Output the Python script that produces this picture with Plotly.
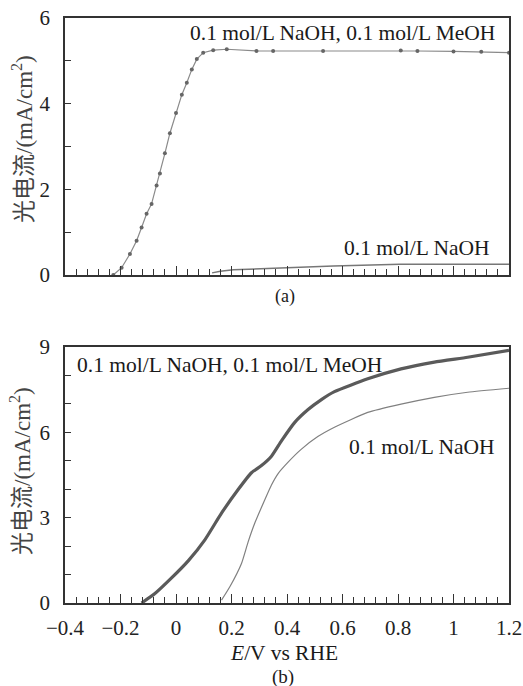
import plotly.graph_objects as go

# ---- data ----
# Panel (a)
a_meoh_x = [-0.226, -0.196, -0.166, -0.142, -0.124, -0.106, -0.088, -0.07, -0.058, -0.04, -0.022,
            0.0, 0.021, 0.039, 0.057, 0.075, 0.098, 0.134, 0.183, 0.29, 0.35, 0.53, 0.81, 0.87, 1.0, 1.1, 1.2]
a_meoh_y = [0.0, 0.17, 0.49, 0.80, 1.11, 1.43, 1.66, 2.09, 2.37, 2.84, 3.31,
            3.78, 4.21, 4.49, 4.80, 5.04, 5.19, 5.25, 5.27, 5.23, 5.23, 5.23, 5.24, 5.23, 5.22, 5.21, 5.19]
a_naoh_x = [0.13, 0.16, 0.207, 0.3, 0.4, 0.567, 0.7, 0.807, 1.0, 1.2]
a_naoh_y = [0.05, 0.09, 0.12, 0.15, 0.17, 0.21, 0.23, 0.25, 0.25, 0.25]

# Panel (b)
b_meoh_x = [-0.124, -0.076, -0.016, 0.044, 0.104, 0.164, 0.224, 0.272, 0.308, 0.344, 0.38,
            0.428, 0.476, 0.524, 0.571, 0.691, 0.811, 0.931, 1.051, 1.2]
b_meoh_y = [0.0, 0.33, 0.88, 1.48, 2.22, 3.16, 3.99, 4.58, 4.83, 5.16, 5.70,
            6.35, 6.80, 7.15, 7.43, 7.88, 8.23, 8.47, 8.64, 8.88]
b_naoh_x = [0.164, 0.194, 0.236, 0.26, 0.284, 0.32, 0.344, 0.368, 0.404, 0.451, 0.511, 0.571,
            0.691, 0.811, 0.931, 1.051, 1.2]
b_naoh_y = [0.1, 0.57, 1.39, 2.15, 2.81, 3.63, 4.15, 4.55, 4.95, 5.40, 5.85, 6.18,
            6.70, 6.99, 7.23, 7.41, 7.55]

x_range = [-0.4, 1.2]
x_ticks = [-0.4, -0.2, 0, 0.2, 0.4, 0.6, 0.8, 1, 1.2]
x_ticklabels = ["\u22120.4", "\u22120.2", "0", "0.2", "0.4", "0.6", "0.8", "1", "1.2"]
ya_ticks = [0, 2, 4, 6]
yb_ticks = [0, 3, 6, 9]

label_both = "0.1 mol/L NaOH, 0.1 mol/L MeOH"
label_naoh = "0.1 mol/L NaOH"
y_title = "光电流/(mA/cm<sup>2</sup>)"
x_title = "<i>E</i>/V vs RHE"

SERIF = "Liberation Serif, Noto Sans CJK SC, serif"
W, H = 523, 686

fig = go.Figure()
fig.add_trace(go.Scatter(x=a_meoh_x, y=a_meoh_y, mode="lines+markers",
                         line=dict(color="#8a8a8a", width=1.2),
                         marker=dict(color="#666666", size=4),
                         xaxis="x", yaxis="y", showlegend=False))
fig.add_trace(go.Scatter(x=a_naoh_x, y=a_naoh_y, mode="lines",
                         line=dict(color="#777777", width=1.5),
                         xaxis="x", yaxis="y", showlegend=False))
fig.add_trace(go.Scatter(x=b_meoh_x, y=b_meoh_y, mode="lines",
                         line=dict(color="#5a5a5a", width=3.2, shape="spline", smoothing=0.5),
                         xaxis="x2", yaxis="y2", showlegend=False))
fig.add_trace(go.Scatter(x=b_naoh_x, y=b_naoh_y, mode="lines",
                         line=dict(color="#808080", width=1.2, shape="spline", smoothing=0.5),
                         xaxis="x2", yaxis="y2", showlegend=False))

xdom = [65 / W, 509 / W]
ya_dom = [1 - 275 / H, 1 - 18 / H]
yb_dom = [1 - 603 / H, 1 - 347 / H]

axis_common = dict(showline=True, linecolor="#333333", linewidth=1.5, mirror=True, automargin=False,
                   showgrid=False, zeroline=False, ticks="inside", tickcolor="#333333",
                   tickfont=dict(family=SERIF, size=21, color="#222222"))

fig.update_layout(
    template="none",
    width=W, height=H, margin=dict(l=0, r=0, t=0, b=0),
    font=dict(family=SERIF, color="#222222"),
    plot_bgcolor="white", paper_bgcolor="white",
    xaxis=dict(domain=xdom, anchor="y", range=x_range, tickvals=x_ticks,
               showticklabels=False, ticklen=9, tickwidth=1.2,
               minor=dict(dtick=0.04, tick0=-0.4, ticks="inside", ticklen=6, tickcolor="#333333", tickwidth=1),
               **axis_common),
    yaxis=dict(domain=ya_dom, anchor="x", range=[0, 6], tickvals=ya_ticks, ticklen=6, tickwidth=1.2,
               ticklabelstandoff=9,
               minor=dict(dtick=1, tick0=0, ticks="inside", ticklen=6, tickcolor="#333333", tickwidth=1),
               **axis_common),
    xaxis2=dict(domain=xdom, anchor="y2", range=x_range, tickvals=x_ticks, ticktext=x_ticklabels,
                ticklen=9, tickwidth=1.2, ticklabelstandoff=5,
                minor=dict(dtick=0.04, tick0=-0.4, ticks="inside", ticklen=6, tickcolor="#333333", tickwidth=1),
                **axis_common),
    yaxis2=dict(domain=yb_dom, anchor="x2", range=[0, 9], tickvals=yb_ticks, ticklen=6, tickwidth=1.2,
                ticklabelstandoff=9,
                minor=dict(dtick=1, tick0=0, ticks="inside", ticklen=6, tickcolor="#333333", tickwidth=1),
                **axis_common),
)

def ann(text, x, y, xanchor="center", yanchor="middle", size=21.5, angle=0, color="#1a1a1a"):
    fig.add_annotation(text=text, x=x / W, y=1 - y / H, xref="paper", yref="paper",
                       xanchor=xanchor, yanchor=yanchor, showarrow=False, textangle=angle,
                       font=dict(family=SERIF, size=size, color=color))

ann(label_both, 497, 33, xanchor="right")
ann(label_naoh, 492, 248, xanchor="right")
ann(label_both, 75, 365, xanchor="left")
ann(label_naoh, 497, 447, xanchor="right")
ann(y_title, 23, 139, size=23, angle=-90, color="#444444")
ann(y_title, 20, 471, size=23, angle=-90, color="#444444")
ann("(a)", 285, 297, size=18)
ann(x_title, 284, 653, size=21.5)
ann("(b)", 283, 677, size=19)

fig.write_html("out.html", config={"displayModeBar": False},
               post_script="document.body.style.margin='0';document.body.style.overflow='hidden';")
